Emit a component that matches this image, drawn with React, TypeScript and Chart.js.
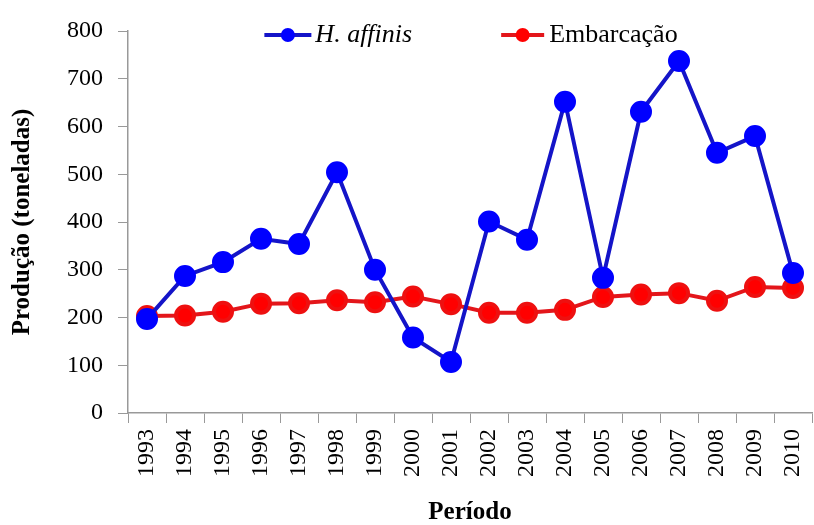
import React, { useEffect, useRef } from "react";
import { Chart, registerables } from "chart.js";

Chart.register(...registerables);

const years = ["1993","1994","1995","1996","1997","1998","1999","2000","2001","2002","2003","2004","2005","2006","2007","2008","2009","2010"];
const hAffinis = [197, 287, 316, 365, 354, 504, 300, 158, 107, 401, 363, 652, 283, 631, 737, 545, 580, 293];
const embarcacao = [203, 204, 212, 229, 230, 236, 232, 244, 228, 210, 210, 216, 243, 248, 251, 235, 264, 262];
const yTicksMax = 800;
const yStep = 100;

const FONT = '"Liberation Serif", "Times New Roman", serif';

const legendPlugin = {
  id: "customLegend",
  afterDraw(chart: any) {
    const ctx = chart.ctx;
    const ca = chart.chartArea;
    const items = [
      { label: "H. affinis", italic: true, line: "#1414c8", point: "#0000ff", lineLen: 47, gap: 4 },
      { label: "Embarcação", italic: false, line: "#e3161b", point: "#ff0000", lineLen: 43, gap: 5 },
    ];
    const itemGap = 89;
    ctx.save();
    const widths = items.map((it) => {
      ctx.font = `${it.italic ? "italic " : ""}26px ${FONT}`;
      return it.lineLen + it.gap + ctx.measureText(it.label).width;
    });
    const total = widths.reduce((a, b) => a + b, 0) + itemGap * (items.length - 1);
    let x = (ca.left + ca.right) / 2 - total / 2 + 1;
    const y = 35;
    items.forEach((it, i) => {
      ctx.strokeStyle = it.line;
      ctx.lineWidth = 4;
      ctx.beginPath();
      ctx.moveTo(x, y);
      ctx.lineTo(x + it.lineLen, y);
      ctx.stroke();
      ctx.fillStyle = it.point;
      ctx.beginPath();
      ctx.arc(x + it.lineLen / 2, y, 7, 0, Math.PI * 2);
      ctx.fill();
      ctx.font = `${it.italic ? "italic " : ""}26px ${FONT}`;
      ctx.fillStyle = "#000";
      ctx.textAlign = "left";
      ctx.textBaseline = "middle";
      ctx.fillText(it.label, x + it.lineLen + it.gap, y);
      x += widths[i] + itemGap;
    });
    ctx.restore();
  },
};

export default function App() {
  const ref = useRef<HTMLCanvasElement | null>(null);
  useEffect(() => {
    document.body.style.margin = "0";
    const canvas = ref.current;
    if (!canvas) return;
    const chart = new Chart(canvas, {
      type: "line",
      data: {
        labels: years,
        datasets: [
          {
            label: "H. affinis",
            data: hAffinis,
            borderColor: "#1414c8",
            backgroundColor: "#0000ff",
            pointBackgroundColor: "#0000ff",
            pointBorderColor: "#0000ff",
            borderWidth: 4,
            pointRadius: 9,
            tension: 0,
            clip: false,
          },
          {
            label: "Embarcação",
            data: embarcacao,
            borderColor: "#e3161b",
            backgroundColor: "#ff0000",
            pointBackgroundColor: "#ff0000",
            pointBorderColor: "#ee1010",
            borderWidth: 4,
            pointRadius: 9,
            tension: 0,
            clip: false,
          },
        ],
      },
      options: {
        responsive: false,
        animation: false,
        layout: { autoPadding: false, padding: { top: 31, right: 2, left: 0, bottom: 0 } },
        plugins: {
          legend: { display: false },
          tooltip: { enabled: false },
        },
        scales: {
          x: {
            type: "category",
            offset: true,
            grid: { display: true, offset: true, drawOnChartArea: false, drawTicks: true, tickLength: 10, color: "#999" },
            border: { display: true, color: "#999", width: 1.5 },
            ticks: { minRotation: 90, maxRotation: 90, padding: 6, color: "#000", font: { family: FONT, size: 24 } },
            title: { display: true, text: "Período", color: "#000", padding: { top: 0, bottom: 0 }, font: { family: FONT, size: 25, weight: "bold", lineHeight: 1 } },
            afterFit(scale: any) {
              scale.height = 112;
              scale.paddingRight = 0;
              scale.paddingLeft = 0;
            },
          },
          y: {
            min: 0,
            max: yTicksMax,
            ticks: { stepSize: yStep, padding: 15, color: "#000", font: { family: FONT, size: 24 } },
            grid: { display: true, drawOnChartArea: false, drawTicks: true, tickLength: 10, color: "#999" },
            border: { display: true, color: "#999", width: 1.5 },
            title: { display: true, text: "Produção (toneladas)", color: "#000", padding: { top: 8, bottom: 0 }, font: { family: FONT, size: 25, weight: "bold" } },
            afterFit(scale: any) {
              scale.width = 128;
            },
          },
        },
      },
      plugins: [legendPlugin],
    });
    return () => chart.destroy();
  }, []);
  return (
    <div style={{ width: 814, height: 525, background: "#fff" }}>
      <canvas ref={ref} width={814} height={525} />
    </div>
  );
}
